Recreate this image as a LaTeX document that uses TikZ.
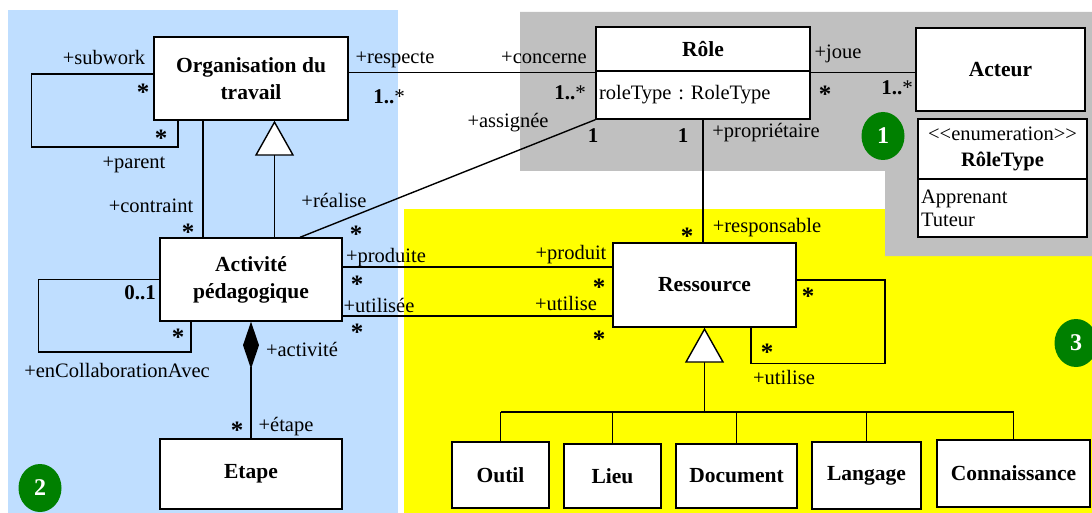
\documentclass[tikz,border=0pt]{standalone}
\usepackage{fontspec}
\setmainfont{Liberation Serif}
\usetikzlibrary{arrows.meta,shapes.geometric}

\definecolor{zoneblue}{RGB}{191,222,255}
\definecolor{zonegray}{RGB}{192,192,192}
\definecolor{zoneyellow}{RGB}{255,255,0}
\definecolor{markgreen}{RGB}{0,128,0}

\newcommand{\lblfont}{\fontsize{20.5}{24}\selectfont}
\frenchspacing
\tikzset{
  cls/.style={draw, fill=white, align=center, inner sep=2pt,
    font=\fontsize{21.5}{27}\selectfont\bfseries},
  attr/.style={draw, fill=white, align=left, inner sep=3pt, font=\fontsize{20.5}{23}\selectfont},
  lbl/.style={inner sep=0pt, font=\lblfont},
  mult/.style={inner sep=0pt, font=\fontsize{21}{24}\selectfont\bfseries},
  star/.style={inner sep=0pt, font=\fontsize{25}{25}\selectfont\bfseries, yshift=-4pt},
  gen/.style={-{Triangle[length=35pt,width=39pt,fill=white]}},
  comp/.style={-{Diamond[length=47pt,width=16pt]}},
  zonemark/.style={ellipse, fill=markgreen, text=white, minimum width=43pt, minimum height=48pt,
    inner sep=0pt, font=\fontsize{24}{24}\selectfont\bfseries},
}

\begin{document}
\begin{tikzpicture}[x=1pt,y=-1pt,line width=1.4pt]
  \useasboundingbox (0,0) rectangle (1092,513);

  % zones
  \fill[zoneblue] (8,10) rectangle (398,513);
  \fill[zoneyellow] (404,209) rectangle (1092,513);
  \fill[zonegray] (520,12) -- (1092,12) -- (1092,256) -- (885,256) -- (885,171) -- (520,171) -- cycle;
  \node[zonemark] (z1) at (883,136) {1};
  \node[zonemark] (z2) at (40,488) {2};
  \node[zonemark] (z3) at (1076,343) {3};

  % classes
  \node[cls, minimum width=194pt, minimum height=83pt] (org) at (251,78.5) {Organisation du\\travail};
  \node[cls, minimum width=182pt, minimum height=83pt] (act) at (251,279.5) {Activité\\pédagogique};
  \node[cls, minimum width=182pt, minimum height=70pt] (etape) at (251,474) {Etape};
  \node[cls, minimum width=214pt, minimum height=44pt] (role) at (703,49) {Rôle};
  \node[attr, text width=208pt, minimum height=48pt] (roleattr) at (703,95) {roleType : RoleType};
  \node[cls, minimum width=169pt, minimum height=83pt] (acteur) at (1000.5,69.5) {Acteur};
  \node[cls, minimum width=169pt, minimum height=60pt, font=\fontsize{20.5}{26}\selectfont] (enumhead) at (1002.5,149)
    {<{}<enumeration>{}>\\\textbf{RôleType}};
  \node[attr, text width=163pt, minimum height=58pt, font=\fontsize{20.5}{23}\selectfont] (enumbody) at (1002.5,208)
    {Apprenant\\Tuteur};
  \node[cls, minimum width=183pt, minimum height=84pt] (res) at (704.5,285) {Ressource};
  \node[cls, minimum width=97pt, minimum height=66pt] (outil) at (500.5,475) {Outil};
  \node[cls, minimum width=97pt, minimum height=64pt] (lieu) at (612.5,476) {Lieu};
  \node[cls, minimum width=121pt, minimum height=64pt] (doc) at (736.5,476) {Document};
  \node[cls, minimum width=109pt, minimum height=67pt] (lang) at (866.5,475.5) {Langage};
  \node[cls, minimum width=153pt, minimum height=67pt] (conn) at (1013.5,473.5) {Connaissance};

  % organisation
  \draw ([yshift=4.5pt]org.west) -- ++(-122,0) -- ++(0,73) -| ([xshift=-73pt]org.south);
  \draw ([xshift=-48pt]org.south) -- ([xshift=-48pt]org.south |- act.north);
  \draw[gen] ([xshift=23.5pt]org.south |- act.north) -- ([xshift=23.5pt]org.south);
  \draw ([yshift=-2pt]roleattr.north west) -- ([yshift=-2pt]roleattr.north west -| org.east);

  % role
  \draw ([xshift=49pt]act.north) -- (roleattr.south west);
  \draw ([yshift=-2pt]roleattr.north east) -- ([yshift=-2pt]roleattr.north east -| acteur.west);
  \draw (roleattr.south) -- (roleattr.south |- res.north);

  % activite
  \draw ([yshift=12.5pt]act.east) -- ([yshift=12.5pt]act.east -| res.west);
  \draw ([yshift=-36.5pt]act.east) -- ([yshift=-36.5pt]act.east -| res.west);
  \draw (act.west) -- ++(-121,0) -- ++(0,72.5) -| ([xshift=-60pt]act.south);
  \draw[comp] (etape.north) -- (act.south);

  % ressource
  \draw ([xshift=46.5pt]res.south) -- ++(0,36) -- ++(134,0) |- ([yshift=5pt]res.east);
  \coordinate (genbar) at (704.5,412);
  \draw[gen] (genbar) -- (res.south);
  \draw (outil.north |- genbar) -- (conn.north |- genbar);
  \foreach \n in {outil,lieu,doc,lang,conn}
    \draw (\n.north) -- (\n.north |- genbar);

  % roles and multiplicities
  \node[lbl] (subwork) at (104,57) {+subwork};
  \node[star] (m1) at (143,88) {*};
  \node[star] (m2) at (161,134) {*};
  \node[lbl] (parent) at (134,165) {+parent};
  \node[lbl] (contraint) at (151,206) {+contraint};
  \node[star] (m3) at (188,228) {*};
  \node[lbl] (realise) at (334,200) {+réalise};
  \node[star] (m4) at (356,230) {*};
  \node[lbl] (respecte) at (395,60) {+respecte};
  \node[mult] (m5) at (389,97) {1..\mdseries*};
  \node[lbl] (concerne) at (544,58) {+concerne};
  \node[mult] (m6) at (570,93) {1..\mdseries*};
  \node[lbl] (assignee) at (508,123) {+assignée};
  \node[mult] (m7) at (593,136) {1};
  \node[mult] (m8) at (683,136) {1};
  \node[lbl] (proprietaire) at (766,133) {+propriétaire};
  \node[star] (m9) at (687,232) {*};
  \node[lbl] (responsable) at (767,228) {+responsable};
  \node[lbl] (joue) at (838,54) {+joue};
  \node[star] (m10) at (825,90) {*};
  \node[mult] (m11) at (897,88) {1..\mdseries*};
  \node[lbl] (produite) at (386,258) {+produite};
  \node[star] (m12) at (357,280) {*};
  \node[lbl] (utilisee) at (379,305) {+utilisée};
  \node[star] (m13) at (357,328) {*};
  \node[lbl] (produit) at (571,255) {+produit};
  \node[star] (m14) at (599,283) {*};
  \node[lbl] (utilise) at (566,303) {+utilise};
  \node[star] (m15) at (599,335) {*};
  \node[mult] (m16) at (140,293) {0..1};
  \node[star] (m17) at (178,333) {*};
  \node[lbl] (collab) at (117,370) {+enCollaborationAvec};
  \node[lbl] (activite) at (302,349) {+activité};
  \node[star] (m18) at (237,426) {*};
  \node[lbl] (etapelbl) at (286,427) {+étape};
  \node[star] (m19) at (808,292) {*};
  \node[star] (m20) at (767,348) {*};
  \node[lbl] (utiliseself) at (784,377) {+utilise};
\end{tikzpicture}
\end{document}
